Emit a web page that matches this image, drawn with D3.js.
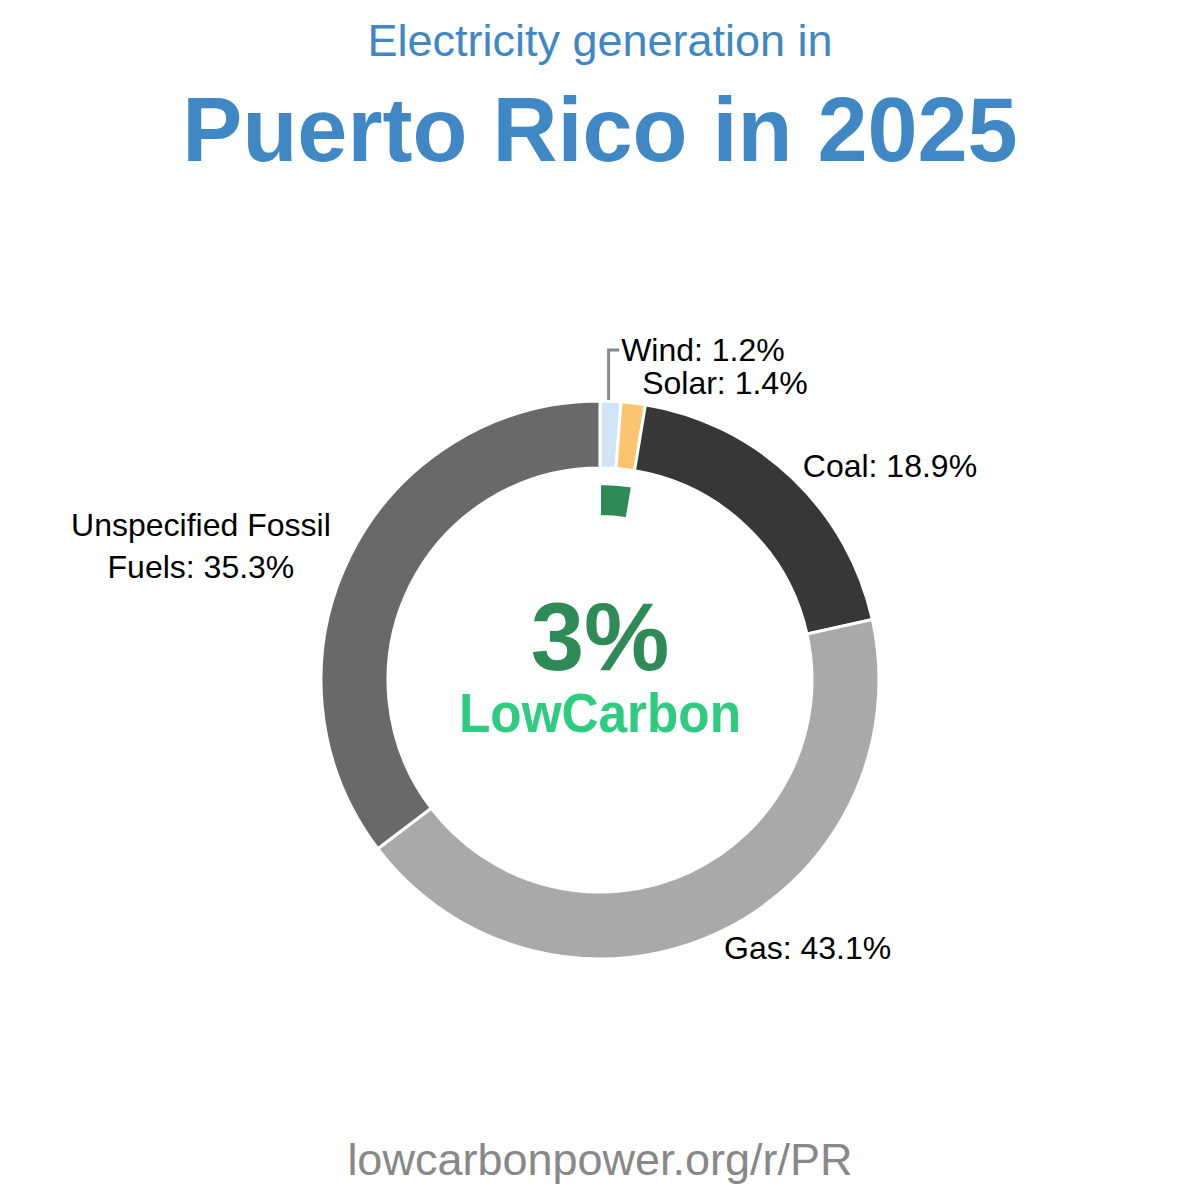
<!DOCTYPE html>
<meta charset="utf-8">
<script src="https://cdn.jsdelivr.net/npm/d3@7"></script>
<style>
body { margin: 0; background: #fff; }
text { font-family: "Liberation Sans", Arial, sans-serif; }
</style>
<body>
<script>
// data
var sources = ["Wind", "Solar", "Coal", "Gas", "Unspecified Fossil Fuels"];
var shares = [1.2, 1.4, 18.9, 43.1, 35.3];
var colors = ["#d0e6f6", "#fdc470", "#373737", "#a9a9a9", "#696969"];
var lowCarbonShare = 2.6;   // wind + solar
var lowCarbonLabel = "3%";

var width = 1200, height = 1200;
var cx = 600, cy = 680;
var outerR = 279, innerR = 212, labelR = 295;

var svg = d3.select("body").append("svg")
    .attr("width", width)
    .attr("height", height);

svg.append("text")
    .attr("x", width / 2).attr("y", 56)
    .attr("text-anchor", "middle")
    .attr("fill", "#3f88c5")
    .attr("font-size", "45px")
    .text("Electricity generation in");

svg.append("text")
    .attr("x", width / 2).attr("y", 161)
    .attr("text-anchor", "middle")
    .attr("fill", "#3f88c5")
    .attr("font-weight", "bold")
    .attr("font-size", "90px")
    .text("Puerto Rico in 2025");

svg.append("text")
    .attr("x", width / 2).attr("y", 1175)
    .attr("text-anchor", "middle")
    .attr("fill", "#888")
    .attr("font-size", "45px")
    .text("lowcarbonpower.org/r/PR");

var data = sources.map(function(s, i) { return {name: s, value: shares[i], color: colors[i]}; });

var pie = d3.pie().sort(null).value(function(d) { return d.value; });
var arcs = pie(data);

var arc = d3.arc().innerRadius(innerR).outerRadius(outerR);

var g = svg.append("g").attr("transform", "translate(" + cx + "," + cy + ")");

g.selectAll("path.slice")
    .data(arcs)
    .enter().append("path")
    .attr("class", "slice")
    .attr("d", arc)
    .attr("fill", function(d) { return d.data.color; })
    .attr("stroke", "#fff")
    .attr("stroke-width", 3);

// inner low-carbon arc
var total = d3.sum(shares);
var lcArc = d3.arc().innerRadius(164).outerRadius(196)
    .startAngle(0).endAngle(2 * Math.PI * lowCarbonShare / total);
g.append("path")
    .attr("d", lcArc())
    .attr("fill", "#2e8b57")
    .attr("stroke", "#fff")
    .attr("stroke-width", 2);

// labels
var labels = arcs.map(function(d) {
  var a = (d.startAngle + d.endAngle) / 2;
  return {d: d, a: a, x: labelR * Math.sin(a), y: -labelR * Math.cos(a), shifted: false};
});
// small slices: nudge solar right, push wind up with a leader line
labels[1].x += 7;
labels[1].y -= 4;
for (var i = labels.length - 2; i >= 0; i--) {
  var next = labels[i + 1];
  if (Math.abs(labels[i].y - next.y) < 33 && Math.abs(labels[i].x - next.x) < 150) {
    labels[i].y = next.y - 33;
    labels[i].x += 10;
    labels[i].shifted = true;
  }
}

labels.forEach(function(l) {
  var right = Math.sin(l.a) >= 0;
  var txt = l.d.data.name + ": " + l.d.data.value.toFixed(1) + "%";
  if (l.shifted) {
    var ex = (outerR + 2) * Math.sin(l.a) - 2;
    g.append("polyline")
      .attr("points", [[ex, -outerR - 1], [ex, l.y], [l.x - 2, l.y]].map(function(p) { return p.join(","); }).join(" "))
      .attr("fill", "none")
      .attr("stroke", "#888")
      .attr("stroke-width", 3);
  }
  if (l.d.data.name.length > 16) {
    // wrap long name in two centred lines
    var words = txt.split(" ");
    var lines = [words.slice(0, 2).join(" "), words.slice(2).join(" ")];
    var t = g.append("text")
      .attr("font-size", "32px")
      .attr("fill", "#000")
      .attr("text-anchor", "middle");
    lines.forEach(function(line, k) {
      t.append("tspan").attr("x", 0).attr("y", (k - 0.5) * 42).attr("dy", "0.35em").text(line);
    });
    var w = t.node().getBBox().width;
    t.attr("transform", "translate(" + (right ? l.x + w / 2 : l.x - 5 - w / 2) + "," + (l.y - 3) + ")");
  } else {
    g.append("text")
      .attr("x", l.x).attr("y", l.y)
      .attr("dy", "0.35em")
      .attr("font-size", "32px")
      .attr("fill", "#000")
      .attr("text-anchor", right ? "start" : "end")
      .text(txt);
  }
});

// centre
g.append("text")
    .attr("x", 0).attr("y", -10)
    .attr("text-anchor", "middle")
    .attr("font-weight", "bold")
    .attr("font-size", "96px")
    .attr("fill", "#2e8b57")
    .text(lowCarbonLabel);

g.append("text")
    .attr("x", 0).attr("y", 52)
    .attr("text-anchor", "middle")
    .attr("font-family", "Lato, 'Noto Sans', sans-serif")
    .attr("font-weight", "900")
    .attr("font-size", "56px")
    .attr("fill", "#2ecc80")
    .attr("textLength", 282)
    .attr("lengthAdjust", "spacingAndGlyphs")
    .text("LowCarbon");
</script>
</body>
